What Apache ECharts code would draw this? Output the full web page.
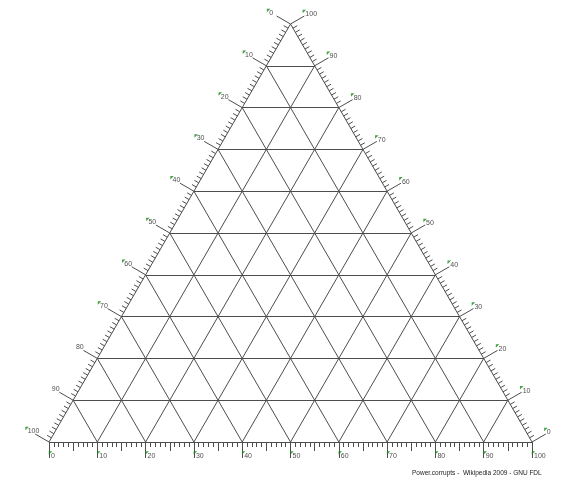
<!DOCTYPE html>
<html>
<head>
<meta charset="utf-8">
<script src="https://cdn.jsdelivr.net/npm/echarts@6/dist/echarts.min.js"></script>
<style>
  html, body { margin: 0; padding: 0; background: #fff; }
  #container { width: 581px; height: 480px; }
</style>
</head>
<body>
<div id="container"></div>
<script>
var dom = document.getElementById('container')
var myChart = echarts.init(dom)

// ternary grid levels and tick labels
var gridLevels = [10, 20, 30, 40, 50, 60, 70, 80, 90]
var majorTicks = [0, 10, 20, 30, 40, 50, 60, 70, 80, 90, 100]
var bottomLabels = ['0', '10', '20', '30', '40', '50', '60', '70', '80', '90', '100']
var leftLabels = ['0', '10', '20', '30', '40', '50', '60', '70', '80', '90', '100']   // top -> bottom-left
var rightLabels = ['0', '10', '20', '30', '40', '50', '60', '70', '80', '90', '100']  // bottom-right -> top
var leftNoMark = ['80', '90']
var minorStep = 1
var footer = 'Power.corrupts -  Wikipedia 2009 - GNU FDL'

var H = Math.sqrt(3) / 2 * 100
var PX = 100 / 483 // data units per pixel
var S3 = Math.sqrt(3) / 2

// points on the three edges
function bottomPt(v) { return [v, 0] }
function leftPt(v) { return [50 - 0.5 * v, H * (1 - v / 100)] }
function rightPt(v) { return [100 - 0.5 * v, H * v / 100] }
var normals = {
  bottom: [0, -1],
  left: [-S3, 0.5],
  right: [S3, 0.5]
}
var edgeFn = { bottom: bottomPt, left: leftPt, right: rightPt }

function tickEnd(side, v, len) {
  var p = edgeFn[side](v)
  var n = normals[side]
  return [p[0] + n[0] * len * PX, p[1] + n[1] * len * PX]
}

// triangle outline and grid lines
var gridLines = [
  { coords: [[0, 0], [100, 0]] },
  { coords: [[0, 0], [50, H]] },
  { coords: [[100, 0], [50, H]] }
]
gridLevels.forEach(function(k) {
  gridLines.push({ coords: [leftPt(100 - k), rightPt(k)] })
  gridLines.push({ coords: [bottomPt(k), rightPt(100 - k)] })
  gridLines.push({ coords: [bottomPt(k), leftPt(100 - k)] })
})

// tick marks
var tickLines = []
;['bottom', 'left', 'right'].forEach(function(side) {
  for (var v = 0; v <= 100; v += minorStep) {
    var len = 5
    if (v % 10 === 0) len = 16
    else if (side === 'bottom' && v % 5 === 0) len = 9
    tickLines.push({ coords: [edgeFn[side](v), tickEnd(side, v, len)] })
  }
})

function labelData(side, labels) {
  return majorTicks.map(function(v, i) {
    return { value: tickEnd(side, v, 16), name: labels[i] }
  })
}
var bottomData = labelData('bottom', bottomLabels)
var leftData = labelData('left', leftLabels)
var rightData = labelData('right', rightLabels)

var labelFont = {
  fontSize: 7,
  fontFamily: 'Liberation Sans, Arial, sans-serif',
  color: '#222'
}
var markSymbol = 'path://M0,0L10,0L0,10Z'
var green = '#138a13'

function labelSeries(data, offset) {
  return {
    type: 'scatter',
    symbolSize: 0,
    silent: true,
    clip: false,
    data: data,
    label: Object.assign({
      show: true,
      position: 'right',
      distance: 0,
      offset: offset,
      formatter: '{b}'
    }, labelFont)
  }
}
function markSeries(data, offset) {
  return {
    type: 'scatter',
    symbol: markSymbol,
    symbolSize: 3.5,
    symbolOffset: offset,
    silent: true,
    clip: false,
    itemStyle: { color: green },
    data: data
  }
}

option = {
  backgroundColor: '#fff',
  animation: false,
  grid: {
    left: 49,
    top: 24,
    width: 483,
    height: 418
  },
  xAxis: { type: 'value', min: 0, max: 100, show: false },
  yAxis: { type: 'value', min: 0, max: H, show: false },
  graphic: [{
    type: 'text',
    left: 412,
    top: 470,
    style: {
      text: footer,
      fontSize: 6.5,
      fontFamily: 'Liberation Sans, Arial, sans-serif',
      fill: '#222'
    }
  }],
  series: [{
    type: 'lines',
    coordinateSystem: 'cartesian2d',
    silent: true,
    clip: false,
    lineStyle: { color: '#4d4d4d', width: 1, opacity: 1 },
    data: gridLines
  }, {
    type: 'lines',
    coordinateSystem: 'cartesian2d',
    silent: true,
    clip: false,
    lineStyle: { color: '#4d4d4d', width: 1, opacity: 1 },
    data: tickLines
  },
  labelSeries(bottomData, [2, -2]),
  labelSeries(leftData, [-7.5, -3]),
  labelSeries(rightData, [1, -1.5]),
  markSeries(bottomData, [1.5, -5]),
  markSeries(leftData.filter(function(d) { return leftNoMark.indexOf(d.name) < 0 }), [-8, -5.5]),
  markSeries(rightData, [0, -4.5])
  ]
}

myChart.setOption(option, true)
</script>
</body>
</html>
